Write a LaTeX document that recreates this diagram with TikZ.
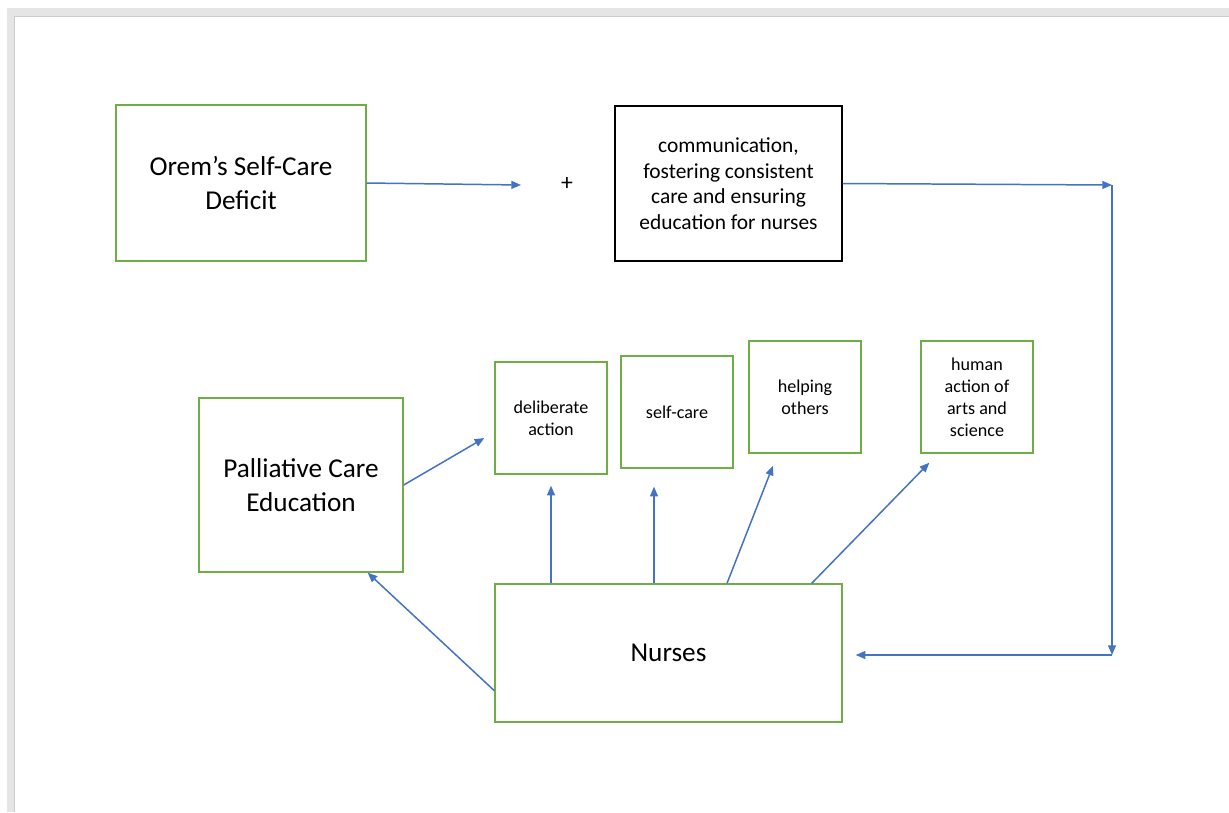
\documentclass[tikz,border=0pt]{standalone}
\usepackage{fontspec}
\setmainfont{Carlito}
\usetikzlibrary{calc,arrows.meta}
\definecolor{boxgreen}{HTML}{70AD47}
\definecolor{arrowblue}{HTML}{4472C4}

\begin{document}
\begin{tikzpicture}[x=0.02cm,y=-0.02cm,
    gbox/.style={draw=boxgreen,line width=0.8pt,inner sep=0pt,align=center},
    bigtxt/.style={font=\fontsize{15.5}{19}\selectfont},
    smalltxt/.style={font=\fontsize{10.3}{12.6}\selectfont},
    arr/.style={draw=arrowblue,line width=0.85pt,-{Triangle[length=5.5pt,width=4.5pt]}}]
            \useasboundingbox (0,0) rectangle (1229,812);
            \fill [gray!20] (7,8) rectangle (1229,812);
            \fill [white] (15,17) rectangle (1229,812);
            \draw [gray!40,line width=0.6pt] (14.5,812) -- (14.5,16.5) -- (1229,16.5);
            \node [gbox,bigtxt,minimum width=5cm,minimum height=3.12cm] (orem) at (241,183) {Orem’s Self-Care\\Deficit};
            \node [font=\fontsize{13.5}{16}\selectfont] (plus) at (567,184) {+};
            \node [draw=black,line width=0.8pt,inner sep=0pt,align=center,minimum width=4.54cm,minimum height=3.1cm,
                   font=\fontsize{12.2}{14.6}\selectfont] (comm) at (728.5,183.5) {communication,\\fostering consistent\\care and ensuring\\education for nurses};
            \node [gbox,bigtxt,minimum width=4.08cm,minimum height=3.48cm] (pal) at (301,485) {Palliative Care\\Education};
            \node [gbox,smalltxt,minimum width=2.24cm,minimum height=2.24cm] (delib) at (551,418) {deliberate\\action};
            \node [gbox,smalltxt,minimum width=2.24cm,minimum height=2.24cm] (self) at (677,412) {self-care};
            \node [gbox,smalltxt,minimum width=2.24cm,minimum height=2.24cm] (help) at (805,397) {helping\\others};
            \node [gbox,smalltxt,minimum width=2.24cm,minimum height=2.24cm] (human) at (977,397) {human\\action of\\arts and\\science};
            \node [gbox,bigtxt,minimum width=6.94cm,minimum height=2.76cm] (nurses) at (668.5,653) {Nurses};
            \coordinate (tr) at (1112,185);
            \coordinate (br) at (1112,655);
            \draw [arr] (orem.east) -- ($(plus)+(-46,1)$);
            \draw [arr] (comm.east) -- (tr);
            \draw [arr] (tr) -- (br);
            \draw [arr] (br) -- ($(nurses.east)+(13,2)$);
            \draw [arr] (pal.east) -- ($(delib.west)+(-10,20)$);
            \draw [arr] (nurses.north -| delib.south) -- ($(delib.south)+(0,11)$);
            \draw [arr] ($(nurses.north)+(-14.5,0)$) -- ($(self.south)+(-23,18)$);
            \draw [arr] ($(nurses.north)+(58.5,0)$) -- ($(help.south)+(-32,12)$);
            \draw [arr] ($(nurses.north east)+(-31,0)$) -- ($(human.south west)+(9,9)$);
            \draw [arr] ($(nurses.south west)+(0,-32)$) -- ($(pal.south east)+(-36,0)$);
          \end{tikzpicture}
\end{document}
